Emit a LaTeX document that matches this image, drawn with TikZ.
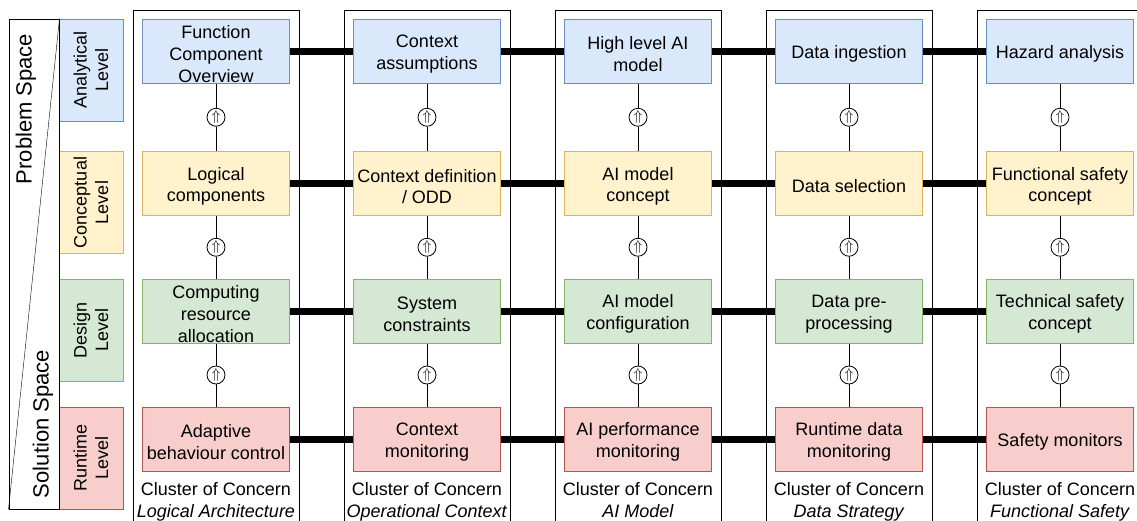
\documentclass[tikz,border=0pt]{standalone}
\usepackage{fontspec}
\setmainfont{Liberation Sans}
\usetikzlibrary{calc}

\definecolor{blueF}{HTML}{DAE8FC}
\definecolor{blueD}{HTML}{6C8EBF}
\definecolor{yellowF}{HTML}{FFF2CC}
\definecolor{yellowD}{HTML}{D6B656}
\definecolor{greenF}{HTML}{D5E8D4}
\definecolor{greenD}{HTML}{82B366}
\definecolor{redF}{HTML}{F8CECC}
\definecolor{redD}{HTML}{B85450}

\def\rowy{{51,183.5,311,439}}

\tikzset{
    row0/.style={fill=blueF, draw=blueD},
    row1/.style={fill=yellowF, draw=yellowD},
    row2/.style={fill=greenF, draw=greenD},
    row3/.style={fill=redF, draw=redD},
    concern/.style={line width=1pt, minimum width=147pt, minimum height=64pt,
        inner sep=0pt},
    lbl/.style={align=center, inner sep=0pt, yshift=-3pt},
    levelbox/.style={line width=1pt, rotate=90, minimum width=102pt,
        minimum height=64pt, inner sep=0pt, align=center},
    cluster/.style={draw, line width=1pt, anchor=north, minimum width=166pt,
        minimum height=540pt, inner sep=0pt},
    refine/.style={draw, circle, fill=white, line width=0.8pt, minimum size=18pt,
        inner sep=0pt, font=\fontsize{15}{15}\selectfont},
    link/.style={line width=7pt},
}

\begin{document}
\begin{tikzpicture}[x=1pt, y=-1pt, font=\fontsize{18}{21.6}\selectfont]
    \useasboundingbox (0,0) rectangle (1137,520);
    \clip (0,0) rectangle (1137,520);

    \foreach \name [count=\i from 0] in {Logical Architecture, Operational Context,
        AI Model, Data Strategy, Functional Safety} {
        \node[cluster] (c\i) at (216+211*\i, 10) {};
        \node[align=center, inner sep=0pt]
            (t\i) at (216+211*\i, 502) {\strut Cluster of Concern\\\textit{\name}\strut};
    }

    \foreach \i/\j/\txt in {
        0/0/{Function\\Component\\Overview}, 1/0/{Context\\assumptions},
        2/0/{High level AI\\model}, 3/0/{Data ingestion}, 4/0/{Hazard analysis},
        0/1/{Logical\\components}, 1/1/{Context definition\\/ ODD},
        2/1/{AI model\\concept}, 3/1/{Data selection}, 4/1/{Functional safety\\concept},
        0/2/{Computing\\resource\\allocation}, 1/2/{System\\constraints},
        2/2/{AI model\\configuration}, 3/2/{Data pre-\\processing},
        4/2/{Technical safety\\concept},
        0/3/{Adaptive\\behaviour control}, 1/3/{Context\\monitoring},
        2/3/{AI performance\\monitoring}, 3/3/{Runtime data\\monitoring},
        4/3/{Safety monitors}%
    } {
        \node[concern, row\j, label={[lbl, name=n\i\j]center:\txt}]
            (b\i\j) at (216+211*\i, {\rowy[\j]}) {};
    }

    \foreach \i in {0,...,4} {
        \foreach \j [evaluate=\j as \k using int(\j+1)] in {0,1,2} {
            \node[refine] (r\i\j) at ($(b\i\j.south)!0.5!(b\i\k.north)$) {$\Uparrow$};
            \draw (b\i\j) -- (r\i\j) -- (b\i\k);
        }
    }

    \foreach \j in {0,...,3} {
        \foreach \i [evaluate=\i as \k using int(\i+1)] in {0,...,3} {
            \draw[link] (b\i\j) -- (b\k\j);
        }
    }

    \foreach \txt [count=\j from 0] in {Analytical, Conceptual, Design, Runtime} {
        \node[levelbox, row\j] (l\j) at (91, {\rowy[\j]+19}) {\txt\\Level};
    }

    \node[draw, line width=1pt, minimum width=50pt, minimum height=490pt,
        inner sep=0pt] (space) at (34, 264) {};
    \draw (space.north east) -- (space.south west);
    \node[rotate=90, font=\fontsize{22}{26}\selectfont] (prob) at (26, 109) {Problem Space};
    \node[rotate=90, font=\fontsize{22}{26}\selectfont] (sol) at (43, 424) {Solution Space};
\end{tikzpicture}
\end{document}
